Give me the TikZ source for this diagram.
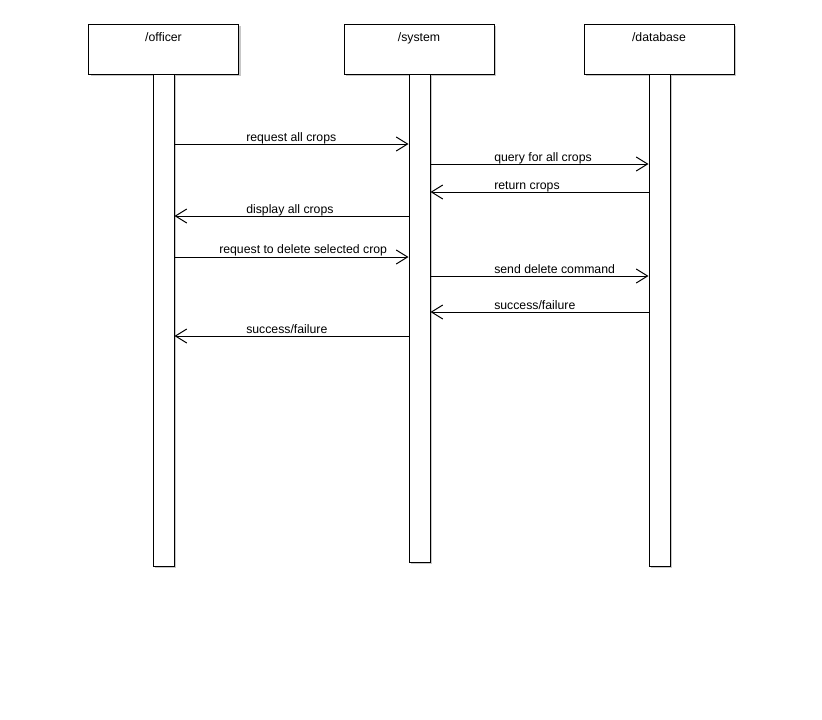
\documentclass[tikz,border=0pt]{standalone}
\usepackage{fontspec}
\setmainfont{Liberation Sans}
\usetikzlibrary{arrows.meta,shadows}
\begin{document}
\begin{tikzpicture}[x=0.75pt,y=-0.75pt,
  box/.style={draw=black,line width=0.75pt,fill=white,inner sep=0pt,
    general shadow={fill=black!22,shadow xshift=1.5pt,shadow yshift=-1.5pt}},
  head/.style={box,minimum width=112.5pt,minimum height=37.5pt},
  life/.style={box,minimum width=15.75pt},
  txt/.style={inner sep=0pt,font=\fontsize{9.2pt}{11pt}\selectfont},
  msg/.style={draw=black,line width=0.75pt,-{Straight Barb[length=8.5pt,width=10.5pt,line width=0.75pt]}}]
\useasboundingbox (0,0) rectangle (822,719);
% headers
\node[head] (oh) at (163.5,49) {};
\node[head] (sh) at (419,49) {};
\node[head] (dh) at (659,49) {};
\node[txt,anchor=base] (ot) at (163.5,41) {/officer};
\node[txt,anchor=base] (st) at (419,41) {/system};
\node[txt,anchor=base] (dt) at (659,41) {/database};
% lifelines
\node[life,minimum height=369pt] (ol) at (163.5,320) {};
\node[life,minimum height=366pt] (sl) at (419.5,318) {};
\node[life,minimum height=369pt] (dl) at (659.5,320) {};
% messages
\draw[msg] (ol.east |- 0,144) -- (sl.west |- 0,144);
\node[txt,anchor=base west] (m1) at (246,141.5) {request all crops};
\draw[msg] (sl.east |- 0,164) -- (dl.west |- 0,164);
\node[txt,anchor=base west] (m2) at (494,161.5) {query for all crops};
\draw[msg] (dl.west |- 0,192) -- (sl.east |- 0,192);
\node[txt,anchor=base west] (m3) at (494,189.5) {return crops};
\draw[msg] (sl.west |- 0,216) -- (ol.east |- 0,216);
\node[txt,anchor=base west] (m4) at (246,213.5) {display all crops};
\draw[msg] (ol.east |- 0,257) -- (sl.west |- 0,257);
\node[txt,anchor=base west] (m5) at (219,253.5) {request to delete selected crop};
\draw[msg] (sl.east |- 0,276) -- (dl.west |- 0,276);
\node[txt,anchor=base west] (m6) at (494,273.5) {send delete command};
\draw[msg] (dl.west |- 0,312) -- (sl.east |- 0,312);
\node[txt,anchor=base west] (m7) at (494,309.5) {success/failure};
\draw[msg] (sl.west |- 0,336) -- (ol.east |- 0,336);
\node[txt,anchor=base west] (m8) at (246,333.5) {success/failure};
\end{tikzpicture}
\end{document}
